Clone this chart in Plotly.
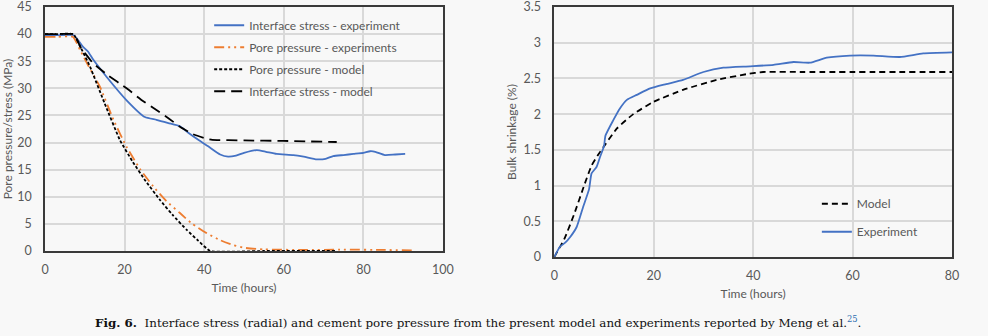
import plotly.graph_objects as go
from plotly.subplots import make_subplots

# ---- Left panel: interface stress and pore pressure (MPa) vs time (hours)
t_is_exp = [0, 3, 7.2, 8.2, 9.5, 10.8, 12.1, 15.5, 20.5, 25.1, 28, 31, 33.9, 36, 38.5, 41,
            44, 46, 48, 50, 53.2, 55.5, 58.2, 62.4, 65, 68.3, 70.5, 72.4, 75, 77.5, 80,
            81.7, 83, 85.4, 88, 90.5]
is_exp = [39.8, 39.8, 39.8, 39.0, 37.7, 36.8, 35.3, 32.1, 27.8, 24.7, 24.2, 23.6, 23.0,
          21.8, 20.5, 19.3, 17.8, 17.4, 17.6, 18.1, 18.6, 18.3, 17.9, 17.7, 17.4, 16.9,
          17.0, 17.5, 17.7, 17.9, 18.1, 18.4, 18.3, 17.7, 17.8, 17.9]

t_pp_exp = [0, 3, 7, 8.8, 11, 13.8, 17.2, 20.5, 24, 27.2, 30.5, 33.9, 37, 40.6, 44, 47.3,
            50, 55, 65, 75, 85, 93]
pp_exp = [39.5, 39.5, 39.5, 37.1, 34.0, 30.3, 24.2, 19.2, 15.0, 11.9, 9.2, 7.0, 5.0, 3.3,
          2.0, 1.1, 0.6, 0.3, 0.2, 0.25, 0.2, 0.1]

t_pp_mod = [0, 3, 7.1, 9, 11.3, 15, 18.8, 22, 25, 28.9, 32, 35.6, 38.5, 41.5, 55, 73]
pp_mod = [40, 40, 40, 37.5, 34.0, 27.2, 20.5, 16.5, 13.2, 9.4, 6.7, 3.9, 1.9, 0, 0, 0]

t_is_mod = [0, 3, 7.3, 9, 12.1, 16, 20.5, 24, 28, 31, 33.9, 37, 40.6, 42, 50, 60, 73.3]
is_mod = [40, 40, 40, 37.5, 34.6, 32.3, 30.0, 28.0, 26.0, 24.5, 22.9, 21.6, 20.7, 20.5,
          20.4, 20.3, 20.1]

# ---- Right panel: bulk shrinkage (%) vs time (hours)
t_bs_mod = [0, 2, 4, 6, 7.5, 9, 10.2, 12.6, 15.9, 19.9, 25.9, 32.7, 38.7, 42, 50, 80]
bs_mod = [0, 0.25, 0.6, 1.0, 1.28, 1.45, 1.57, 1.8, 2.0, 2.17, 2.34, 2.48, 2.56, 2.59,
          2.59, 2.59]

t_bs_exp = [0, 1.1, 2.2, 3.2, 4.5, 5.8, 7.0, 7.5, 8.5, 9.2, 10.0, 10.3, 11.9, 13.2, 14.6,
            16.6, 19.3, 22.5, 25.9, 30, 34, 39.4, 44.1, 48.1, 51.4, 54.8, 59.5, 64.2,
            69.5, 74.2, 80]
bs_exp = [0, 0.14, 0.2, 0.28, 0.42, 0.70, 0.95, 1.17, 1.26, 1.40, 1.55, 1.70, 1.92, 2.08,
          2.20, 2.27, 2.36, 2.42, 2.48, 2.59, 2.65, 2.67, 2.69, 2.73, 2.72, 2.79, 2.82,
          2.82, 2.80, 2.85, 2.865]

left_ticks_x = [0, 20, 40, 60, 80, 100]
left_ticks_y = [0, 5, 10, 15, 20, 25, 30, 35, 40, 45]
right_ticks_x = [0, 20, 40, 60, 80]
right_ticks_y = [0, 0.5, 1, 1.5, 2, 2.5, 3, 3.5]
right_tick_text = ["0", "0.5", "1", "1.5", "2", "2.5", "3", "3.5"]

BLUE = "#4472C4"
ORANGE = "#ED7D31"
BLACK = "#000000"
GREY_TXT = "#595959"
GRID = "#d9d9d9"
BG = "#f8f8f8"
FONT = "Lato, 'Open Sans', sans-serif"

fig = make_subplots(rows=1, cols=2)

fig.add_trace(go.Scatter(x=t_is_exp, y=is_exp, mode="lines", name="Interface stress - experiment",
                         line=dict(color=BLUE, width=1.8, shape="spline", smoothing=0.5),
                         legend="legend", legendgroup="a"), row=1, col=1)
fig.add_trace(go.Scatter(x=t_pp_exp, y=pp_exp, mode="lines", name="Pore pressure - experiments",
                         line=dict(color=ORANGE, width=1.8, shape="spline", smoothing=0.5,
                                   dash="10px,4px,2px,4px,2px,4px"),
                         legend="legend", legendgroup="b"), row=1, col=1)
fig.add_trace(go.Scatter(x=t_pp_mod, y=pp_mod, mode="lines", name="Pore pressure - model",
                         line=dict(color=BLACK, width=1.8, shape="spline", smoothing=0.4,
                                   dash="3px,2px"),
                         legend="legend", legendgroup="c"), row=1, col=1)
fig.add_trace(go.Scatter(x=t_is_mod, y=is_mod, mode="lines", name="Interface stress - model",
                         line=dict(color=BLACK, width=1.8, shape="spline", smoothing=0.3,
                                   dash="11px,6px"),
                         legend="legend", legendgroup="d"), row=1, col=1)

fig.add_trace(go.Scatter(x=t_bs_mod, y=bs_mod, mode="lines", name="Model",
                         line=dict(color=BLACK, width=1.8, shape="spline", smoothing=0.5,
                                   dash="6px,4px"),
                         legend="legend2", legendgroup="e"), row=1, col=2)
fig.add_trace(go.Scatter(x=t_bs_exp, y=bs_exp, mode="lines", name="Experiment",
                         line=dict(color=BLUE, width=1.8, shape="spline", smoothing=0.5),
                         legend="legend2", legendgroup="f"), row=1, col=2)

axis_common = dict(showline=True, linecolor="#3a3a3a", linewidth=1.5, mirror=True,
                   showgrid=True, gridcolor=GRID, gridwidth=1.5, zeroline=False,
                   ticks="", tickfont=dict(family=FONT, size=12.5, color=GREY_TXT),
                   ticklabeloverflow="allow", automargin=False)

fig.update_xaxes(**axis_common)
fig.update_yaxes(**axis_common)

title_font = dict(family=FONT, size=12, color=GREY_TXT)

fig.update_layout(
    xaxis=dict(domain=[0, 0.4388], range=[0, 100], tickvals=left_ticks_x, ticklabelstandoff=6,
               title=dict(text="Time (hours)", standoff=8, font=title_font)),
    yaxis=dict(domain=[0.024, 1], range=[0, 45], tickvals=left_ticks_y, ticklabelstandoff=9,
               title=dict(text="Pore pressure/stress (MPa)", standoff=4, font=title_font)),
    xaxis2=dict(domain=[0.5615, 1], range=[0, 80], tickvals=right_ticks_x, ticklabelstandoff=6,
                title=dict(text="Time (hours)", standoff=8, font=title_font)),
    yaxis2=dict(domain=[0, 1], range=[0, 3.5], tickvals=right_ticks_y, ticktext=right_tick_text,
                ticklabelstandoff=9,
                title=dict(text="Bulk shrinkage (%)", standoff=4, font=title_font)),
    legend=dict(x=0.181, y=0.985, xanchor="left", yanchor="top", bgcolor="rgba(0,0,0,0)",
                font=dict(family=FONT, size=12, color=GREY_TXT), tracegroupgap=3,
                traceorder="grouped"),
    legend2=dict(x=0.851, y=0.271, xanchor="left", yanchor="top", bgcolor="rgba(0,0,0,0)",
                 font=dict(family=FONT, size=12, color=GREY_TXT), tracegroupgap=9,
                 traceorder="grouped"),
    width=988, height=336,
    margin=dict(l=45, r=36, t=7, b=79),
    paper_bgcolor=BG, plot_bgcolor=BG,
    showlegend=True,
)

fig.add_annotation(
    text="<b>Fig. 6.</b>  Interface stress (radial) and cement pore pressure from the present model "
         "and experiments reported by Meng et al.<sup><span style='color:#2f6fb0'>25</span></sup>.",
    xref="paper", yref="paper", x=0.477, y=-0.26, xanchor="center", yanchor="middle",
    showarrow=False, font=dict(family="'DejaVu Serif', serif", size=11.9, color="#111111"))

fig.write_html("out.html")
